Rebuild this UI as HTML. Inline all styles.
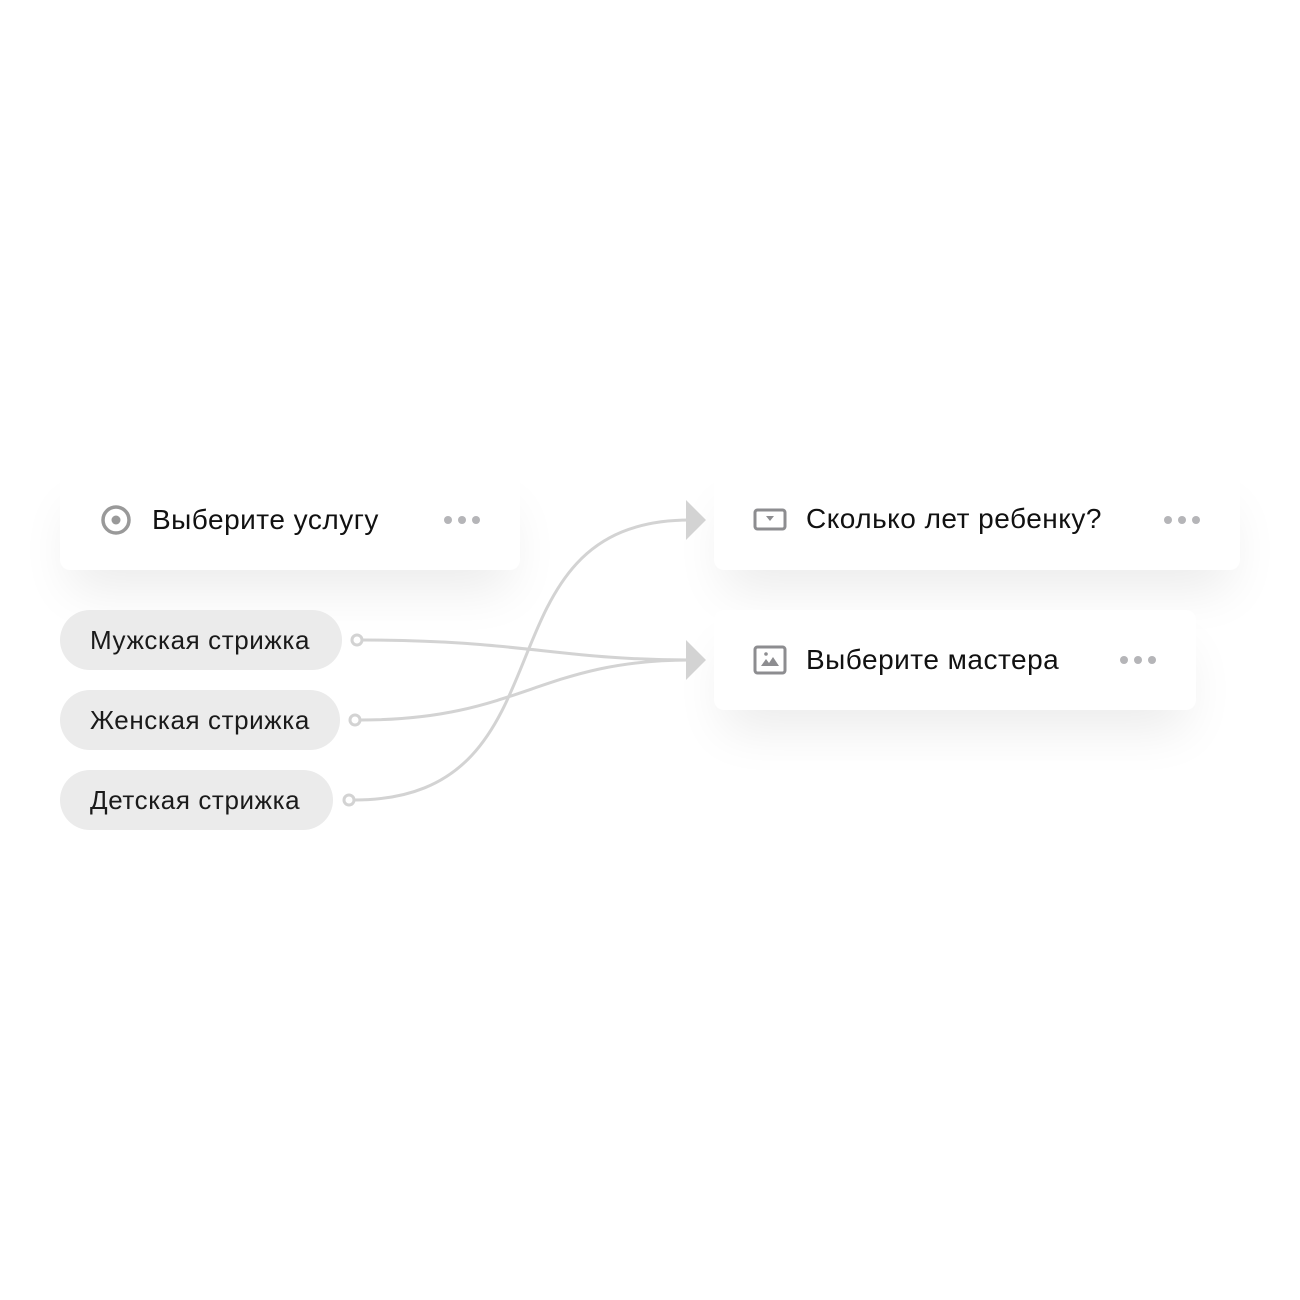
<!DOCTYPE html>
<html><head><meta charset="utf-8"><style>
html,body{margin:0;padding:0;background:#fff;width:1300px;height:1300px;overflow:hidden}
body{position:relative;font-family:"Liberation Sans","Noto Sans CJK SC",sans-serif;color:#111}
.card{position:absolute;background:#fff;border-radius:10px;box-shadow:0 30px 50px -10px rgba(0,0,0,0.08)}
.t{position:absolute;font-size:28px;line-height:30px;white-space:nowrap;letter-spacing:0.5px}
.dots{position:absolute;display:flex;gap:6px}
.dots i{width:8px;height:8px;border-radius:50%;background:#b5b5b8;display:block}
.pill{position:absolute;left:60px;height:60px;border-radius:30px;background:#ebebeb;font-size:26px;line-height:60px;padding-left:30px;box-sizing:border-box;white-space:nowrap;color:#1a1a1a;letter-spacing:0.6px}
</style></head><body>
<div class="card" style="left:60px;top:470px;width:460px;height:100px"></div>
<div class="card" style="left:714px;top:470px;width:526px;height:100px"></div>
<div class="card" style="left:714px;top:610px;width:482px;height:100px"></div>

<svg style="position:absolute;left:0;top:0" width="1300" height="1300">
 <circle cx="116" cy="520" r="13" fill="none" stroke="#999" stroke-width="3.5"/>
 <circle cx="116" cy="520" r="4.5" fill="#999"/>
 <rect x="755" y="510" width="30" height="19" rx="2.5" fill="none" stroke="#8d8d90" stroke-width="3"/>
 <path d="M766 516 L774 516 L770 521 Z" fill="#8d8d90"/>
 <rect x="755" y="647" width="30" height="26" rx="2.5" fill="none" stroke="#8d8d90" stroke-width="3"/>
 <path d="M761 666 L766 659 L769 663 L773 657 L779 666 Z" fill="#8d8d90"/>
 <circle cx="766" cy="654" r="1.8" fill="#8d8d90"/>
 <g fill="none" stroke="#d3d3d3" stroke-width="3">
  <path d="M362 640 C 520 640 560 660 690 660"/>
  <path d="M360 720 C 520 720 540 660 690 660"/>
  <path d="M354 800 C 580 800 470 520 690 520"/>
  <circle cx="357" cy="640" r="5" fill="#fff"/>
  <circle cx="355" cy="720" r="5" fill="#fff"/>
  <circle cx="349" cy="800" r="5" fill="#fff"/>
 </g>
 <path d="M686 500 L706 520 L686 540 Z" fill="#d3d3d3"/>
 <path d="M686 640 L706 660 L686 680 Z" fill="#d3d3d3"/>
</svg>

<div class="t" style="left:152px;top:505px">Выберите услугу</div>
<div class="dots" style="left:444px;top:516px"><i></i><i></i><i></i></div>
<div class="t" style="left:806px;top:504px">Сколько лет ребенку?</div>
<div class="dots" style="left:1164px;top:516px"><i></i><i></i><i></i></div>
<div class="t" style="left:806px;top:645px">Выберите мастера</div>
<div class="dots" style="left:1120px;top:656px"><i></i><i></i><i></i></div>

<div class="pill" style="top:610px;width:282px">Мужская стрижка</div>
<div class="pill" style="top:690px;width:280px">Женская стрижка</div>
<div class="pill" style="top:770px;width:273px">Детская стрижка</div>
</body></html>
